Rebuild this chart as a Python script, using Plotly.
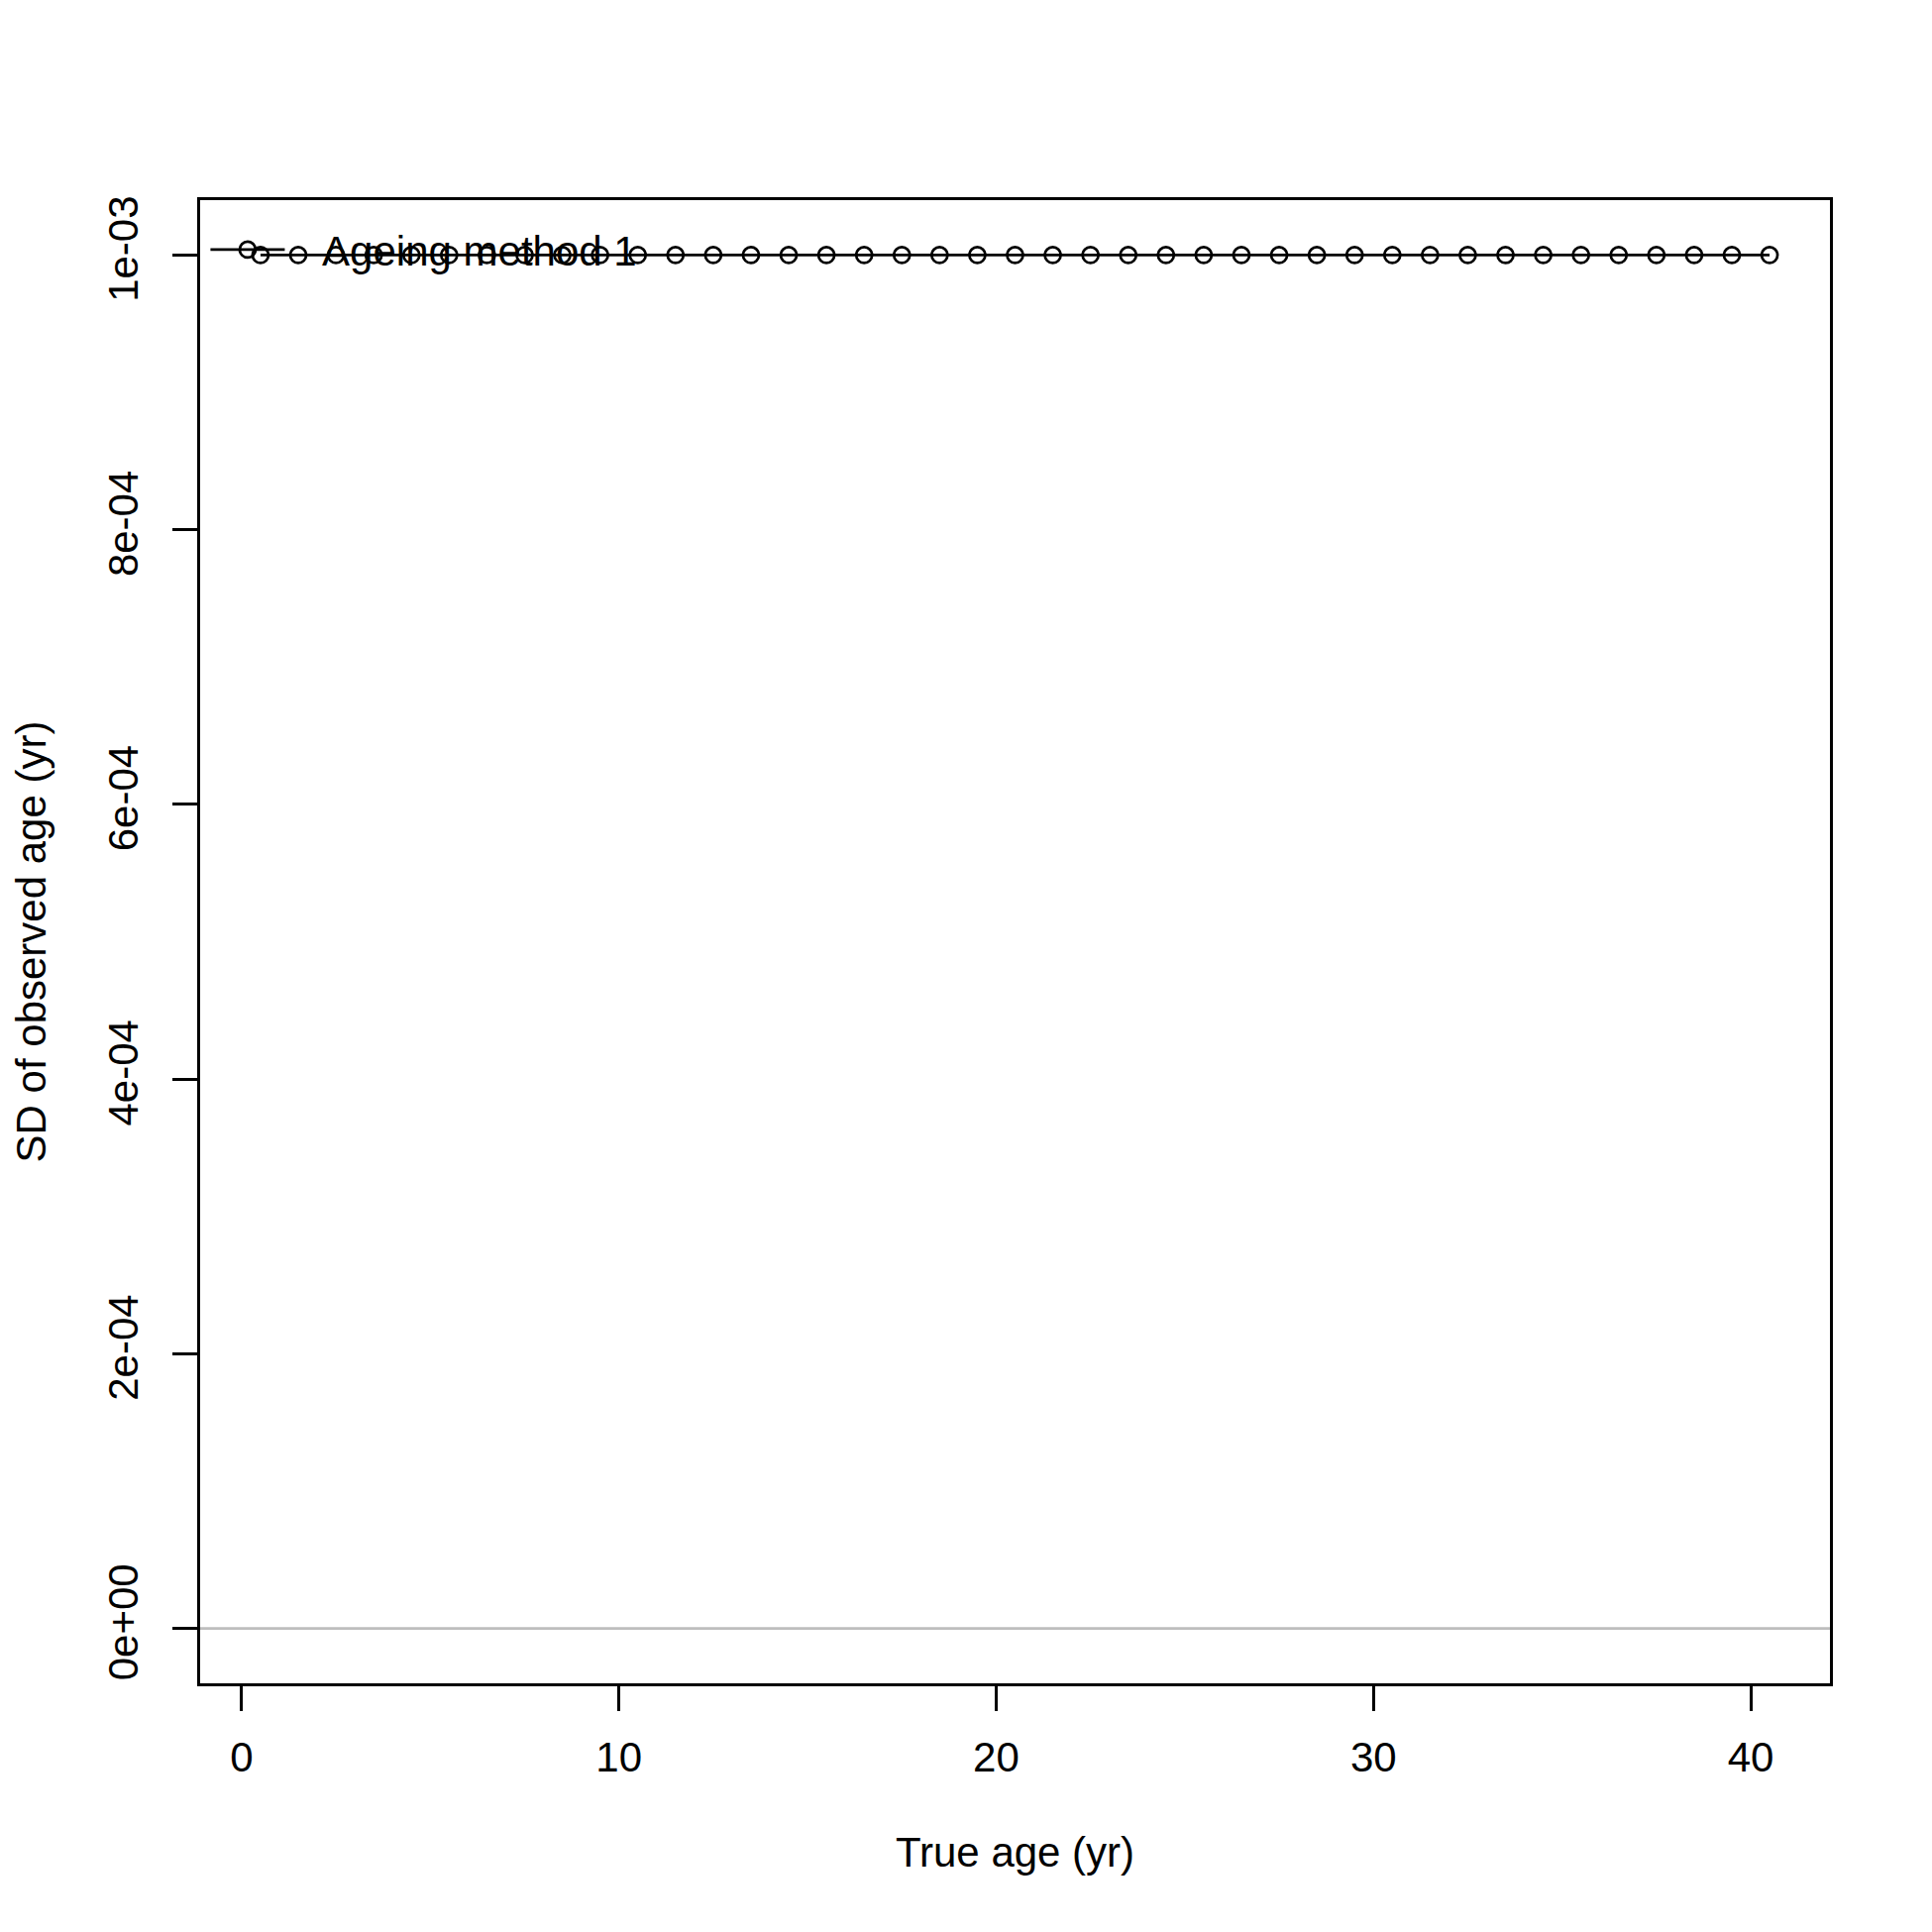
import plotly.graph_objects as go

# Data
true_age = [0.5, 1.5, 2.5, 3.5, 4.5, 5.5, 6.5, 7.5, 8.5, 9.5,
            10.5, 11.5, 12.5, 13.5, 14.5, 15.5, 16.5, 17.5, 18.5, 19.5,
            20.5, 21.5, 22.5, 23.5, 24.5, 25.5, 26.5, 27.5, 28.5, 29.5,
            30.5, 31.5, 32.5, 33.5, 34.5, 35.5, 36.5, 37.5, 38.5, 39.5, 40.5]
sd_obs = [0.001] * 41
series_name = "Ageing method 1"

x_ticks = [0, 10, 20, 30, 40]
y_ticks = [0, 0.0002, 0.0004, 0.0006, 0.0008, 0.001]
y_tick_labels = ["0e+00", "2e-04", "4e-04", "6e-04", "8e-04", "1e-03"]

FONT = "Arial, Liberation Sans, sans-serif"
FS = 42

# page body has an 8px default margin, so the figure is 1942 px and margins are offset
W = 1942
fig = go.Figure()
fig.add_trace(go.Scatter(
    x=true_age, y=sd_obs, mode="lines+markers",
    name="\u2002\u00a0" + series_name,
    line=dict(color="black", width=2.7),
    marker=dict(symbol="circle-open", size=16, color="black",
                line=dict(color="black", width=2.7)),
))

fig.add_shape(type="line", xref="paper", yref="y", x0=0, x1=1, y0=0, y1=0,
              line=dict(color="#BEBEBE", width=2.7), layer="below")

fig.update_layout(
    width=W, height=W,
    margin=dict(l=193.5, r=103.3, t=193.5, b=251.2, autoexpand=False),
    paper_bgcolor="white", plot_bgcolor="white",
    font=dict(family=FONT, size=FS, color="black"),
    showlegend=True,
    legend=dict(x=0.0033, y=0.9665, xanchor="left", yanchor="middle",
                bgcolor="rgba(0,0,0,0)", borderwidth=0,
                font=dict(family=FONT, size=FS, color="black"),
                itemwidth=75, tracegroupgap=0),
)

fig.update_xaxes(
    range=[-1.1, 42.1], tickmode="array", tickvals=x_ticks,
    ticks="outside", ticklen=25, tickwidth=2.7, tickcolor="black",
    showline=True, linewidth=3.2, linecolor="black", mirror=True,
    showgrid=False, zeroline=False,
    tickfont=dict(family=FONT, size=FS, color="black"),
    ticklabelstandoff=10,
    title=dict(text="True age (yr)", font=dict(family=FONT, size=FS), standoff=60),
)
fig.update_yaxes(
    range=[-0.00004, 0.00104], tickmode="array", tickvals=y_ticks,
    ticktext=y_tick_labels, tickangle=-90,
    ticks="outside", ticklen=25, tickwidth=2.7, tickcolor="black",
    showline=True, linewidth=3.2, linecolor="black", mirror=True,
    showgrid=False, zeroline=False,
    tickfont=dict(family=FONT, size=FS, color="black"),
    ticklabelstandoff=18,
    title=dict(text="SD of observed age (yr)", font=dict(family=FONT, size=FS), standoff=55),
)

fig.write_html("out.html")
